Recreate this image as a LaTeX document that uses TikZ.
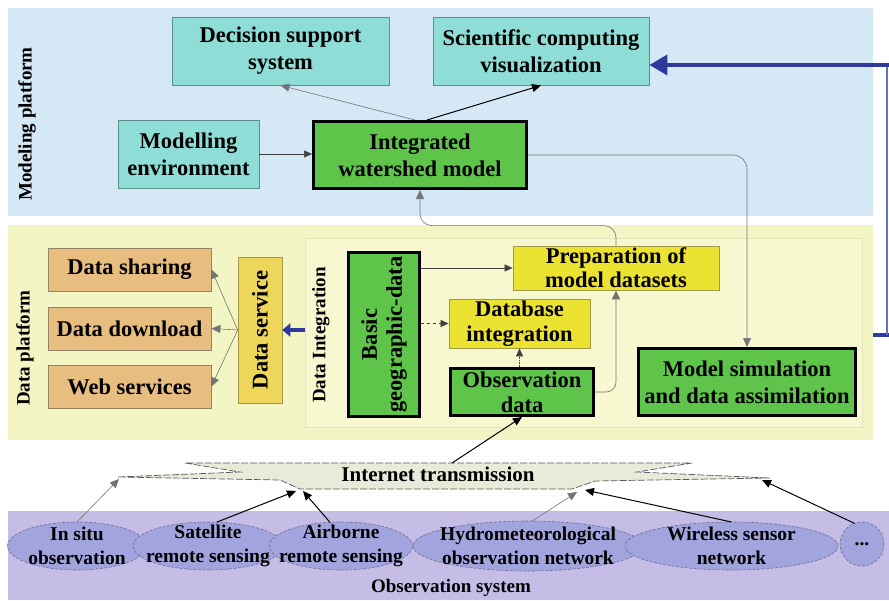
\documentclass[tikz,border=0pt]{standalone}
\usepackage{fontspec}
\setmainfont{Liberation Serif}
\usepackage{graphicx}
\usetikzlibrary{arrows.meta,shapes.geometric,calc}
\definecolor{mpbg}{RGB}{213,232,245}
\definecolor{dpbg}{RGB}{243,246,196}
\definecolor{dibg}{RGB}{248,248,208}
\definecolor{dibd}{RGB}{228,228,190}
\definecolor{osbg}{RGB}{197,189,230}
\definecolor{tealf}{RGB}{142,221,214}
\definecolor{tealb}{RGB}{90,143,138}
\definecolor{greenf}{RGB}{94,196,74}
\definecolor{tanf}{RGB}{232,190,128}
\definecolor{tanb}{RGB}{150,130,100}
\definecolor{dsyf}{RGB}{238,214,90}
\definecolor{yelf}{RGB}{236,226,50}
\definecolor{yelb}{RGB}{160,154,70}
\definecolor{ellf}{RGB}{162,164,222}
\definecolor{ellb}{RGB}{110,110,150}
\definecolor{itf}{RGB}{234,234,218}
\definecolor{blueA}{RGB}{46,58,158}
\definecolor{blueB}{RGB}{100,115,200}
\newcommand\mainfnt{\fontsize{22.5}{27}\selectfont\bfseries}
\newcommand\ellfnt{\fontsize{19.5}{24}\selectfont\bfseries}
\newcommand\lblfnt{\fontsize{19}{22}\selectfont\bfseries}
\tikzset{
  panel/.style={inner sep=0pt, outer sep=0pt},
  tealbox/.style={draw=tealb, fill=tealf, line width=0.8pt, align=center, inner sep=0pt, font=\mainfnt},
  greenbox/.style={draw=black, fill=greenf, line width=3pt, align=center, inner sep=0pt, font=\mainfnt},
  tanbox/.style={draw=tanb, fill=tanf, line width=0.8pt, align=center, inner sep=0pt, font=\mainfnt},
  yelbox/.style={draw=yelb, fill=yelf, line width=0.8pt, align=center, inner sep=0pt, font=\mainfnt},
  dsbox/.style={draw=yelb, fill=dsyf, line width=0.6pt, align=center, inner sep=0pt, font=\mainfnt},
  obsell/.style={ellipse, draw=ellb, dash pattern=on 3pt off 1.5pt, fill=ellf, line width=0.6pt, inner sep=0pt, outer sep=0pt},
  elltxt/.style={align=center, inner sep=0pt, font=\ellfnt},
  lbl/.style={font=\lblfnt, inner sep=0pt},
  conn/.style={draw=black!75, line width=0.6pt, -{Triangle[length=8pt,width=7pt]}},
  connk/.style={draw=black, line width=1pt, -{Triangle[length=9pt,width=8pt]}},
  conng/.style={draw=black!55, line width=0.6pt, -{Triangle[length=9pt,width=8pt]}},
  bluethick/.style={draw=blueA, line width=4pt},
}
\begin{document}
\begin{tikzpicture}[x=1pt,y=-1pt]
\useasboundingbox[fill=white] (0,0) rectangle (889,600);
% panels
\node[panel, fill=mpbg, minimum width=865pt, minimum height=208pt] (mp) at (440.5,112) {};
\node[panel, fill=dpbg, minimum width=865pt, minimum height=215pt] (dp) at (440.5,332.5) {};
\node[panel, fill=dibg, draw=dibd, line width=0.8pt, minimum width=557pt, minimum height=189pt] (di) at (583.5,332.5) {};
\node[panel, fill=osbg, minimum width=881pt, minimum height=89pt] (os) at (448.5,555.5) {};
\node[lbl] (mpl) at (27,124) {\rotatebox{90}{Modeling platform}};
\node[lbl] (dpl) at (25,348) {\rotatebox{90}{Data platform}};
\node[lbl] (dil) at (321,335) {\rotatebox{90}{Data Integration}};
\node[lbl] (osl) at (451,588) {Observation system};
% internet transmission shape
\draw[fill=itf, draw=black!65, line width=0.7pt, dash pattern=on 7pt off 2pt]
  (118,477) -- (240,472) -- (185,463) -- (692,463) -- (637,472) -- (770,478)
  -- (595,481) -- (572,489) -- (300,489) -- (280,480) -- cycle;
\node[font=\fontsize{21}{24}\selectfont\bfseries, inner sep=0pt] (itx) at (438,474) {Internet transmission};
\coordinate (it0) at (452,463);
\coordinate (it1) at (119,479);
\coordinate (it2) at (296,491);
\coordinate (it3) at (303,491);
\coordinate (it4) at (577,492);
\coordinate (it5) at (585,490);
\coordinate (it6) at (762,480);
% modeling platform
\node[tealbox, minimum width=217pt, minimum height=68pt] (dss) at (280.5,51) {Decision support\\system};
\node[tealbox, minimum width=216pt, minimum height=68pt] (scv) at (541,51) {Scientific computing\\visualization};
\node[tealbox, minimum width=141pt, minimum height=68pt] (menv) at (188.5,154) {Modelling\\environment};
\node[greenbox, minimum width=213pt, minimum height=67pt] (iwm) at (420,155) {Integrated\\watershed model};
% data platform
\node[tanbox, minimum width=163pt, minimum height=43pt] (dsh) at (129.5,269.5) {Data sharing};
\node[tanbox, minimum width=163pt, minimum height=43pt] (ddl) at (129.5,328.5) {Data download};
\node[tanbox, minimum width=163pt, minimum height=43pt] (wsv) at (129.5,386.5) {Web services};
\node[dsbox, minimum width=44pt, minimum height=146pt] (dsv) at (260,330) {\rotatebox{90}{Data service}};
\node[greenbox, minimum width=71pt, minimum height=164pt] (bgd) at (384,334.5) {\rotatebox{90}{\begin{tabular}{@{}c@{}}Basic\\[-2pt]geographic-data\end{tabular}}};
\node[yelbox, minimum width=206pt, minimum height=44pt, font=\fontsize{22.5}{24}\selectfont\bfseries] (pmd) at (616,268) {Preparation of\\model datasets};
\node[yelbox, minimum width=141pt, minimum height=49pt, font=\fontsize{22.5}{25}\selectfont\bfseries] (dbi) at (519.5,323.5) {Database\\integration};
\node[greenbox, minimum width=143pt, minimum height=47pt, font=\fontsize{22.5}{25}\selectfont\bfseries] (obs) at (522,392) {Observation\\data};
\node[greenbox, minimum width=217pt, minimum height=67pt] (msa) at (747,382) {Model simulation\\and data assimilation};
% observation system
\node[obsell, minimum width=139pt, minimum height=48pt] (e1) at (77,546) {};
\node[obsell, minimum width=150pt, minimum height=48pt] (e2) at (208,546) {};
\node[obsell, minimum width=143pt, minimum height=48pt] (e3) at (341,546) {};
\node[obsell, minimum width=230pt, minimum height=50pt] (e4) at (528,546) {};
\node[obsell, minimum width=213pt, minimum height=48pt] (e5) at (731.5,546) {};
\node[obsell, circle, minimum size=44pt] (e6) at (862,544) {};
\node[elltxt] (e1t) at (e1) {In situ\\observation};
\node[elltxt] (e2t) at (e2) {Satellite\\remote sensing};
\node[elltxt] (e3t) at (e3) {Airborne\\remote sensing};
\node[elltxt] (e4t) at (e4) {Hydrometeorological\\observation network};
\node[elltxt] (e5t) at (e5) {Wireless sensor\\network};
\node[elltxt] (e6t) at (e6) {...};
% connectors: modeling platform
\draw[conng] ($(iwm.north)+(-5,0)$) -- (dss.south);
\draw[connk] ($(iwm.north)+(7,0)$) -- (scv.south);
\draw[conn] (menv.east) -- (menv.east -| iwm.west);
\draw[conng, rounded corners=14pt] (iwm.east) -| (msa.north);
\draw[conng, rounded corners=12pt] (pmd.north) -- ++(0,-20) -| (iwm.south);
% data integration
\draw[conn] (bgd.east |- pmd.west) -- (pmd.west);
\draw[conn, dashed] (bgd.east |- dbi.west) -- (dbi.west);
\draw[conn, densely dotted] (obs.north -| dbi.south) -- (dbi.south);
\draw[conng, rounded corners=10pt] (obs.east) -| (pmd.south);
% data service
\draw[draw=blueA, line width=3.5pt, -{Triangle[length=8pt,width=13pt]}] (di.west |- dsv.east) -- (dsv.east);
\draw[conng] (dsv.west) -- (dsh.east);
\draw[conng] (dsv.west) -- (ddl.east);
\draw[conng] (dsv.west) -- (wsv.east);
% blue feedback
\coordinate (bc1) at (887,335);
\coordinate (bc2) at (887,65);
\draw[bluethick] (dp.east |- bc1) -- (889,335);
\draw[draw=blueB, line width=1.2pt] (bc1) -- (bc2);
\draw[bluethick, -{Triangle[length=18pt,width=20pt]}] (889,65) -- (bc2 -| scv.east);
% observation to internet
\draw[conng] (e1.north) -- (it1);
\draw[connk] (e2.70) -- (it2);
\draw[connk] (e3.115) -- (it3);
\draw[conng] (e4.80) -- (it4);
\draw[connk] (e5.north) -- (it5);
\draw[connk] (e6.110) -- (it6);
\draw[connk] (it0) -- (obs.south);
\end{tikzpicture}
\end{document}
